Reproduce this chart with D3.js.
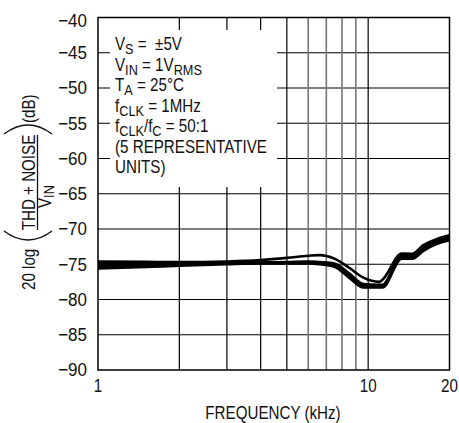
<!DOCTYPE html>
<html><head><meta charset="utf-8">
<script src="https://cdn.jsdelivr.net/npm/d3@7/dist/d3.min.js"></script>
<style>
html,body{margin:0;padding:0;background:#fff;}
svg text{font-family:"Liberation Sans Narrow","Arial Narrow","Liberation Sans",Arial,sans-serif;fill:#111;white-space:pre;}
</style></head>
<body>
<svg id="chart" width="459" height="423"></svg>
<script>
// ---- data ----
const freqs = [1, 1.5, 2, 3, 4, 5, 6, 6.6, 7.5, 8.5, 9.6, 11, 11.3, 13.3, 14.6, 16, 18, 20];
const unitA = [-74.6, -74.65, -74.7, -74.6, -74.4, -74.1, -73.8, -73.7, -74.2, -75.5, -76.9, -77.5, -77.2, -73.5, -73.5, -72.3, -71.4, -70.9];
const unitB = [-74.8, -74.8, -74.8, -74.8, -74.75, -74.7, -74.6, -74.7, -74.9, -76.3, -77.8, -77.9, -77.9, -73.6, -73.7, -72.5, -71.5, -71.0];
const unitC = [-75.0, -74.95, -74.9, -74.85, -74.8, -74.75, -74.7, -74.8, -75.05, -76.5, -78.0, -78.05, -78.05, -73.8, -73.85, -72.7, -71.7, -71.2];
const unitD = [-75.3, -75.15, -75.0, -74.9, -74.85, -74.8, -74.8, -74.9, -75.2, -76.7, -78.15, -78.2, -78.2, -74.0, -74.0, -72.9, -71.9, -71.4];
const unitE = [-75.6, -75.4, -75.2, -75.0, -74.9, -74.9, -74.9, -75.0, -75.35, -76.9, -78.3, -78.3, -78.3, -74.2, -74.2, -73.1, -72.1, -71.6];
const seriesList = [unitA, unitB, unitC, unitD, unitE];
const yTicks = [-40, -45, -50, -55, -60, -65, -70, -75, -80, -85, -90];
const xGridMajor = [2, 3, 4, 5, 10];
const xGridMinor = [6, 7, 8, 9];
const xTickLabels = [1, 10, 20];
const noteLines = [
  [["V",""],["S","sub"],[" =  ±5V",""]],
  [["V",""],["IN","sub"],[" = 1V",""],["RMS","sub"]],
  [["T",""],["A","sub"],[" = 25°C",""]],
  [["f",""],["CLK","sub"],[" = 1MHz",""]],
  [["f",""],["CLK","sub"],["/f",""],["C","sub"],[" = 50:1",""]],
  [["(5 REPRESENTATIVE",""]],
  [["UNITS)",""]]
];

// ---- layout ----
const L = 98, R = 449.5, T = 17.5, B = 370;
const SX = 0.82; // condense factor (narrow face emulation)
const svg = d3.select("#chart");
const x = d3.scaleLog().domain([1, 20]).range([L, R]);
const y = d3.scaleLinear().domain([-90, -40]).range([B, T]);

function narrowText(parent, px, py, size, anchor, sx) {
  return parent.append("g").attr("transform", `translate(${px},${py}) scale(${sx || SX},1)`)
    .append("text").attr("font-size", size).attr("text-anchor", anchor || "start");
}

// grid
const g = svg.append("g");
g.selectAll(".hy").data(yTicks.filter(v => v !== -40 && v !== -90)).enter().append("line")
  .attr("x1", L).attr("x2", R).attr("y1", d => y(d)).attr("y2", d => y(d))
  .attr("stroke", "#000").attr("stroke-width", 1.1);
g.selectAll(".vx").data(xGridMajor).enter().append("line")
  .attr("x1", d => x(d)).attr("x2", d => x(d)).attr("y1", T).attr("y2", B)
  .attr("stroke", "#000").attr("stroke-width", 1.2);
g.selectAll(".vm").data(xGridMinor).enter().append("line")
  .attr("x1", d => x(d)).attr("x2", d => x(d)).attr("y1", T).attr("y2", B)
  .attr("stroke", "#777").attr("stroke-width", 1.6);

// white note box covering grid
svg.append("rect").attr("x", 110).attr("y", 30).attr("width", 167).attr("height", 157).attr("fill", "#fff");

// frame
svg.append("rect").attr("x", L).attr("y", T).attr("width", R - L).attr("height", B - T)
  .attr("fill", "none").attr("stroke", "#000").attr("stroke-width", 1.5);

// curves
const line = d3.line().x((d, i) => x(freqs[i])).y(d => y(d)).curve(d3.curveMonotoneX);
svg.append("g").selectAll("path").data(seriesList).enter().append("path")
  .attr("d", d => line(d)).attr("fill", "none").attr("stroke", "#000")
  .attr("stroke-width", 2.6).attr("stroke-linejoin", "round");

// y tick labels
yTicks.forEach(v => {
  narrowText(svg, 87, Math.max(y(v), T + 3.5), 18.5, "end", 0.92).attr("dy", "0.35em")
    .text("\u2212" + Math.abs(v));
});

// x tick labels
xTickLabels.forEach(v => {
  narrowText(svg, x(v), 392, 18.5, "middle").text(v);
});
narrowText(svg, 273, 419, 18.5, "middle").text("FREQUENCY (kHz)");

// notes
noteLines.forEach((parts, i) => {
  const t = narrowText(svg, 115, 50 + i * 20.5, 18.5, "start");
  let sub = false;
  parts.forEach(([s, k]) => {
    const ts = t.append("tspan").text(s);
    if (k === "sub" && !sub) { ts.attr("dy", 4).attr("font-size", 15.5); sub = true; }
    else if (k === "sub") { ts.attr("font-size", 15.5); }
    else if (sub) { ts.attr("dy", -4); sub = false; }
  });
});

// y-axis title (rotated)
const yt = svg.append("g").attr("transform", "translate(0,310) rotate(-90)");
narrowText(yt, 20, 35, 18.5, "start").text("20 log");
yt.append("path").attr("d", "M79,4 Q61,28 79,52").attr("fill", "none").attr("stroke", "#111").attr("stroke-width", 1.3);
narrowText(yt, 127.5, 35, 18.5, "middle").text("THD + NOISE");
yt.append("line").attr("x1", 80).attr("x2", 175).attr("y1", 37.5).attr("y2", 37.5).attr("stroke", "#111").attr("stroke-width", 1.3);
const vin = narrowText(yt, 102, 51, 18.5, "start");
vin.append("tspan").text("V");
vin.append("tspan").attr("dy", 3).attr("font-size", 15.5).text("IN");
yt.append("path").attr("d", "M176,4 Q194,28 176,52").attr("fill", "none").attr("stroke", "#111").attr("stroke-width", 1.3);
narrowText(yt, 187, 35, 18.5, "start").text("(dB)");
</script>
</body></html>
